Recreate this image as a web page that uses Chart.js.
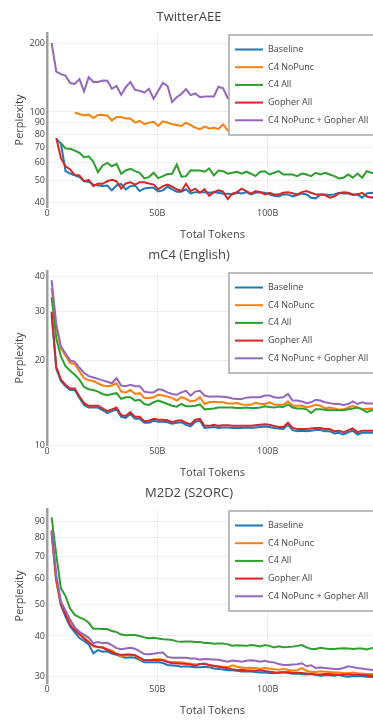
<!DOCTYPE html>
<html>
<head>
<meta charset="utf-8">
<title>Perplexity vs Total Tokens</title>
<script src="https://cdn.jsdelivr.net/npm/chart.js@4.4.1/dist/chart.umd.min.js"></script>
<style>
  html, body { margin: 0; padding: 0; background: #fff; }
  body { position: relative; width: 373px; height: 720px; overflow: hidden; }
  canvas { position: absolute; left: 0; }
</style>
</head>
<body>
<canvas id="chart-twitter" width="400" height="250" style="top:0px"></canvas>
<canvas id="chart-mc4" width="400" height="250" style="top:238px"></canvas>
<canvas id="chart-m2d2" width="400" height="250" style="top:476px"></canvas>
<script>
// Checkpoints (billions of tokens)
const tokens = [
  2.1, 4.2, 6.3, 8.4, 10.5, 12.6, 14.7, 16.8, 18.9, 21,
  23.1, 25.2, 27.3, 29.4, 31.5, 33.6, 35.7, 37.8, 39.9, 42,
  44.1, 46.2, 48.3, 50.4, 52.5, 54.6, 56.7, 58.8, 60.9, 63,
  65.1, 67.2, 69.3, 71.4, 73.5, 75.6, 77.7, 79.8, 81.9, 84,
  86.1, 88.2, 90.3, 92.4, 94.5, 96.6, 98.7, 100.8, 102.9, 105,
  107.1, 109.2, 111.3, 113.4, 115.5, 117.6, 119.7, 121.8, 123.9, 126,
  128.1, 130.2, 132.3, 134.4, 136.5, 138.6, 140.7, 142.8, 144.9, 147, 149.1
];
const seriesNames = ['Baseline', 'C4 NoPunc', 'C4 All', 'Gopher All', 'C4 NoPunc + Gopher All'];
const seriesColors = ['#1f77b4', '#ff7f0e', '#2ca02c', '#d62728', '#9467bd'];
const xTicks = [0, 50, 100];

// TwitterAEE
const twitterTicks = [40, 50, 60, 70, 80, 90, 100, 200];
const twitterBaseline = [
  null, 76.2, 72.7, 55, 53.7, 52.8, 51.8, 49.7, 49.4, 48,
  47.6, 47.3, 47.6, 45.3, 47.6, 48.4, 45.8, 47.3, 47.6, 45,
  46.2, 46.5, 46.5, 44.8, 45.3, 47, 45.8, 44.7, 44.7, 45.8,
  43.9, 44.5, 44.5, 44.5, 44.2, 44.5, 44.2, 43.8, 43.8, 43.5,
  44.2, 43.9, 44.5, 43.5, 44.2, 44.5, 44.2, 43.5, 42.9, 42.6,
  43.5, 43.5, 42.6, 43.2, 43.9, 43.5, 42, 41.8, 43.5, 43.5,
  43.2, 43.5, 44.2, 43.9, 43.9, 43.2, 43.5, 42.1, 43.9, 44.2, 44
];
const twitterNoPunc = [
  null, null, null, null, null, 99.3, 98, 96.5, 97.5, 94,
  97, 97, 96.5, 91.7, 95, 95, 93.5, 93.5, 89.8, 91.5,
  88.5, 89.8, 90.5, 86.8, 91, 89.8, 88.3, 87.7, 86.8, 89.8,
  87.5, 85.4, 84, 86.3, 84.6, 85.2, 84.3, 88.3, 83, 81.5,
  84, 83, 85, 84, 83, 84, 83, 82, 84, 83,
  82, 83, 82, 82, 83, 82, 81.5, 82, 83, 82,
  81.5, 82, 82, 81.5, 82, 81.5, 82, 81.5, 82, 81.5, 82
];
const twitterC4All = [
  null, null, 73.1, 69.1, 68.9, 67.7, 66.2, 63.3, 63.9, 60.4,
  54.4, 58.3, 59.8, 57.8, 59.2, 53.6, 55.4, 56.3, 55, 54.1,
  51.1, 51.8, 54.1, 51.3, 52.3, 53.4, 53.6, 58.8, 52, 52.3,
  55.5, 55.4, 55.4, 54.7, 56.5, 52.7, 55.4, 55, 53.6, 54.1,
  54.7, 53.6, 54.7, 53.6, 52.3, 54.7, 55, 53.2, 54.1, 55,
  53.2, 53.2, 53.2, 52.3, 53.7, 53.2, 52.3, 54.1, 53.2, 54.1,
  53.2, 52.3, 51.1, 51.5, 53.2, 51.5, 53.7, 51.5, 55, 54.1, 53.5
];
const twitterGopher = [
  null, 76.9, 62.9, 57.8, 56, 52.9, 52.7, 49.7, 50.4, 47.3,
  48.6, 48.4, 49.7, 50.4, 49.7, 46.1, 48.6, 49.2, 48, 49.2,
  49.2, 48.6, 48, 45.8, 47.3, 48, 47, 45.8, 45, 48.4,
  45, 46.1, 44.2, 45.8, 42.9, 44.5, 45.3, 44.7, 41.5, 43.8,
  44.5, 46.1, 45, 43.8, 45, 44.5, 43.5, 44.2, 43.5, 43.5,
  44.2, 44.5, 44, 43.5, 44.5, 45, 44.2, 43.5, 43.5, 43.2,
  42.1, 42.6, 44, 44.5, 44.2, 43.5, 43.5, 44.2, 42.6, 42.1, 43
];
const twitterMix = [
  201, 150.3, 146.5, 144.4, 134, 132.8, 139.3, 122.9, 142, 135.3,
  135.3, 137.5, 137, 126.4, 130, 119, 128.5, 135.3, 125, 123.8,
  121.5, 126.4, 114.3, 124, 134, 130, 110.5, 116, 120, 126,
  118.5, 120.5, 116, 117, 117, 117, 129, 127, 115, 113,
  116, 112, 114, 111, 113, 110, 112, 109, 111, 110,
  108, 110, 107, 109, 108, 106, 108, 107, 105, 107,
  106, 104, 106, 105, 104, 105, 103, 104, 103, 104, 102
];

// mC4 (English)
const mc4Ticks = [10, 20, 30, 40];
const mc4Baseline = [
  29.0, 18.7, 16.9, 16.2, 15.7, 15.7, 14.7, 13.9, 13.6, 13.6,
  13.6, 13.3, 13.0, 13.2, 13.4, 12.6, 12.5, 12.9, 12.4, 12.4,
  12.0, 12.0, 12.2, 12.1, 12.1, 12.05, 11.9, 12.0, 12.05, 11.8,
  11.65, 12.1, 12.2, 11.5, 11.55, 11.6, 11.5, 11.55, 11.55, 11.5,
  11.5, 11.5, 11.55, 11.5, 11.55, 11.6, 11.65, 11.6, 11.5, 11.45,
  11.4, 11.8, 11.3, 11.2, 11.25, 11.2, 11.25, 11.3, 11.3, 11.2,
  11.2, 11.0, 11.05, 10.9, 11.1, 11.25, 10.9, 11.05, 11.05, 11.05, 11.1
];
const mc4NoPunc = [
  36.2, 26.4, 22.1, 20.8, 19.6, 19.45, 18.3, 17.3, 17.0, 16.9,
  16.6, 16.3, 16.2, 16.3, 16.6, 15.5, 15.4, 15.7, 15.2, 15.3,
  14.7, 14.7, 14.8, 15.1, 15.0, 14.9, 14.7, 14.4, 14.8, 14.6,
  14.3, 14.4, 14.8, 14.0, 14.2, 14.25, 14.2, 14.2, 14.05, 14.05,
  14.1, 13.95, 13.9, 13.9, 14.15, 14.0, 14.0, 14.2, 13.95, 13.9,
  13.9, 14.3, 13.8, 13.8, 13.8, 13.6, 13.75, 13.9, 13.8, 13.5,
  13.6, 13.5, 13.35, 13.4, 13.6, 13.8, 13.6, 13.45, 13.45, 13.5, 13.5
];
const mc4C4All = [
  33.6, 24.0, 20.7, 19.1, 18.4, 17.8, 17.1, 16.1, 15.8, 15.7,
  15.5, 15.2, 15.05, 15.2, 15.3, 14.6, 14.8, 14.8, 14.4, 14.5,
  14.0, 13.9, 14.2, 14.4, 14.2, 14.0, 13.8, 13.7, 14.0, 13.75,
  13.75, 13.8, 13.95, 13.4, 13.45, 13.5, 13.6, 13.6, 13.6, 13.6,
  13.55, 13.55, 13.6, 13.55, 13.55, 13.6, 13.75, 13.65, 13.6, 13.7,
  13.65, 13.95, 13.6, 13.5, 13.5, 13.4, 13.0, 13.4, 13.4, 13.35,
  13.3, 13.3, 13.3, 13.3, 13.4, 13.5, 13.6, 13.4, 13.1, 13.3, 13.3
];
const mc4Gopher = [
  29.8, 19.0, 17.1, 16.4, 15.9, 15.9, 14.9, 14.1, 13.8, 13.8,
  13.8, 13.5, 13.2, 13.4, 13.6, 12.8, 12.7, 13.1, 12.6, 12.6,
  12.15, 12.2, 12.4, 12.3, 12.3, 12.25, 12.05, 12.2, 12.25, 12.0,
  11.85, 12.3, 12.4, 11.7, 11.7, 11.8, 11.7, 11.75, 11.75, 11.7,
  11.7, 11.7, 11.7, 11.7, 11.75, 11.8, 11.85, 11.8, 11.7, 11.6,
  11.6, 12.0, 11.5, 11.4, 11.4, 11.4, 11.45, 11.5, 11.5, 11.4,
  11.4, 11.2, 11.25, 11.1, 11.3, 11.45, 11.1, 11.25, 11.25, 11.25, 11.3
];
const mc4Mix = [
  38.7, 26.9, 22.5, 21.2, 20.0, 19.8, 18.85, 18.1, 17.6, 17.4,
  17.2, 17.0, 16.8, 16.6, 17.3, 16.3, 16.2, 16.4, 16.2, 16.2,
  15.5, 15.4, 15.4, 15.8, 15.7, 15.4, 15.2, 15.1, 15.4, 15.6,
  15.0, 15.5, 15.6, 15.0, 14.85, 14.9, 14.9, 14.85, 14.8, 14.65,
  14.6, 14.6, 14.75, 14.8, 14.8, 14.8, 15.0, 15.0, 14.8, 14.75,
  14.8, 15.2, 14.4, 14.4, 14.3, 14.1, 14.2, 14.5, 14.4, 14.2,
  14.1, 14.0, 14.0, 13.9, 14.0, 14.3, 14.0, 14.2, 14.05, 14.05, 14.1
];

// M2D2 (S2ORC)
const m2d2Ticks = [30, 40, 50, 60, 70, 80, 90];
const m2d2Baseline = [
  82.6, 59.0, 49.7, 45.8, 42.8, 41.0, 39.4, 38.6, 37.7, 35.4,
  36.2, 35.8, 35.9, 35.3, 35.0, 34.6, 34.3, 34.4, 34.3, 33.8,
  33.2, 33.2, 33.2, 33.2, 33.05, 32.6, 32.5, 32.4, 32.2, 32.3,
  32.2, 32.1, 32.1, 32.2, 32.1, 31.8, 31.7, 31.55, 31.4, 31.4,
  31.3, 31.15, 31.15, 31.1, 31.0, 30.9, 30.9, 30.8, 30.75, 30.85,
  31.0, 30.8, 30.65, 30.7, 30.55, 30.5, 30.6, 30.4, 30.2, 30.3,
  30.3, 30.2, 30.4, 30.1, 30.0, 30.1, 30.1, 30.1, 30.0, 29.95, 29.9
];
const m2d2NoPunc = [
  82.6, 58.7, 50.3, 47.4, 44.4, 42.3, 40.9, 39.6, 38.4, 37.1,
  37.0, 37.0, 36.4, 36.1, 35.3, 34.7, 34.9, 35.0, 34.9, 34.0,
  33.7, 33.6, 33.8, 34.0, 33.8, 33.4, 33.3, 33.2, 33.2, 33.0,
  32.9, 32.7, 32.8, 32.9, 32.6, 32.3, 32.3, 32.2, 32.1, 32.5,
  32.2, 32.0, 31.9, 31.95, 31.9, 31.7, 31.9, 31.75, 31.6, 31.5,
  31.7, 31.5, 31.35, 31.4, 31.9, 31.3, 31.0, 31.0, 31.2, 31.1,
  31.0, 30.9, 30.9, 30.8, 30.75, 30.9, 30.75, 30.7, 30.6, 30.6, 30.6
];
const m2d2C4All = [
  92.3, 71.0, 56.0, 53.0, 48.5, 46.4, 45.6, 45.0, 43.9, 42.1,
  42.1, 42.0, 42.0, 41.4, 41.1, 40.4, 40.2, 40.3, 40.3, 40.0,
  39.6, 39.35, 39.5, 39.3, 39.1, 39.0, 38.9, 38.5, 38.4, 38.5,
  38.45, 38.35, 38.3, 38.05, 38.05, 37.85, 37.9, 37.9, 37.7, 37.35,
  37.45, 37.4, 37.3, 37.5, 37.4, 37.15, 37.5, 37.3, 36.9, 37.2,
  36.95, 37.0, 37.1, 37.3, 37.5, 36.9, 36.5, 36.5, 36.8, 36.6,
  36.5, 36.5, 36.6, 36.7, 36.6, 36.5, 36.6, 36.6, 36.35, 36.7, 36.8
];
const m2d2Gopher = [
  83.6, 60.0, 50.2, 46.5, 43.2, 41.7, 40.5, 39.3, 38.2, 37.4,
  37.0, 36.8, 36.3, 35.7, 35.2, 34.95, 35.1, 35.1, 34.9, 34.3,
  33.75, 33.7, 33.8, 33.7, 33.7, 33.3, 33.0, 33.0, 32.9, 32.85,
  32.7, 32.4, 32.8, 32.85, 32.6, 32.4, 32.2, 32.0, 31.85, 31.6,
  31.45, 31.5, 31.4, 31.35, 31.3, 31.4, 31.25, 31.1, 30.95, 30.9,
  30.9, 31.0, 30.85, 30.85, 30.8, 30.7, 30.6, 30.45, 30.5, 30.6,
  30.6, 30.5, 30.4, 30.5, 30.45, 30.4, 30.4, 30.35, 30.3, 30.2, 30.1
];
const m2d2Mix = [
  84.6, 61.5, 51.0, 47.9, 44.9, 42.5, 41.2, 40.4, 39.5, 38.0,
  38.3, 38.0, 38.1, 37.5, 36.7, 36.4, 36.6, 36.8, 36.55, 35.9,
  35.2, 35.15, 35.3, 35.5, 35.6, 34.5, 34.3, 34.3, 34.3, 34.3,
  34.1, 34.1, 33.85, 34.0, 33.95, 33.9, 33.8, 33.6, 33.35, 33.65,
  33.5, 33.35, 33.6, 33.7, 33.6, 33.35, 33.6, 33.3, 33.2, 32.8,
  32.6, 32.6, 32.7, 32.75, 33.0, 32.3, 32.5, 31.9, 32.0, 31.9,
  31.8, 31.7, 31.7, 31.9, 32.3, 32.1, 31.9, 31.8, 31.6, 31.5, 31.4
];

const textColor = '#444';
Chart.defaults.font.family = '"Open Sans", sans-serif';
Chart.defaults.color = textColor;

// Legend box drawn inside the plot, top right, like the original figure
const boxedLegend = {
  id: 'boxedLegend',
  afterDatasetsDraw(chart) {
    const ctx = chart.ctx;
    const left = 229, top = 35, width = 152, height = 100;
    ctx.save();
    ctx.fillStyle = '#fff';
    ctx.fillRect(left, top, width, height);
    ctx.strokeStyle = '#a6a6a6';
    ctx.lineWidth = 1.5;
    ctx.strokeRect(left, top, width, height);
    ctx.font = '9px "Open Sans"';
    ctx.textBaseline = 'middle';
    chart.data.datasets.forEach((ds, i) => {
      const y = top + 14.5 + i * 17.7;
      ctx.strokeStyle = ds.borderColor;
      ctx.lineWidth = 2;
      ctx.beginPath();
      ctx.moveTo(235, y);
      ctx.lineTo(263, y);
      ctx.stroke();
      ctx.fillStyle = textColor;
      ctx.fillText(ds.label, 268, y);
    });
    ctx.restore();
  }
};

const makeChart = (canvasId, title, yMin, yMax, yTicks, series) => {
  const datasets = series.map((values, i) => ({
    label: seriesNames[i],
    data: values,
    borderColor: seriesColors[i],
    backgroundColor: seriesColors[i],
    borderWidth: 2,
    pointRadius: 0,
    tension: 0,
    fill: false,
    order: series.length - i   // later traces on top
  }));

  return new Chart(document.getElementById(canvasId), {
    type: 'line',
    data: { labels: tokens, datasets: datasets },
    options: {
      responsive: false,
      animation: false,
      devicePixelRatio: 1,
      layout: { padding: { left: 0, right: 22, top: 0, bottom: 0 } },
      plugins: {
        legend: { display: false },
        tooltip: { enabled: false },
        title: {
          display: true,
          text: title,
          color: textColor,
          font: { size: 13, weight: 'normal' },
          padding: { top: 9, bottom: 8.4 }
        }
      },
      scales: {
        x: {
          type: 'linear',
          min: 0,
          max: 150,
          afterBuildTicks: s => { s.ticks = xTicks.map(v => ({ value: v })); },
          afterFit: s => { s.height = 43; },
          grid: { color: '#eee', drawTicks: false },
          border: { display: false },
          ticks: {
            padding: 1,
            maxRotation: 0,
            autoSkip: false,
            color: textColor,
            font: { size: 9 },
            callback: v => (v === 0 ? '0' : v + 'B')
          },
          title: {
            display: true,
            text: 'Total Tokens',
            color: textColor,
            font: { size: 11 },
            padding: { top: 0, bottom: 8.4 }
          }
        },
        y: {
          type: 'logarithmic',
          min: yMin,
          max: yMax,
          afterBuildTicks: s => { s.ticks = yTicks.map(v => ({ value: v })); },
          afterFit: s => { s.width = 47; },
          grid: { color: '#eee', drawTicks: false },
          border: { display: true, color: '#a0a0a0', width: 2.5 },
          ticks: {
            padding: 2,
            autoSkip: false,
            color: textColor,
            font: { size: 9 },
            callback: v => String(v)
          },
          title: {
            display: true,
            text: 'Perplexity',
            color: textColor,
            font: { size: 11 },
            padding: { top: 13.4, bottom: 0 }
          }
        }
      }
    },
    plugins: [boxedLegend]
  });
};

makeChart('chart-twitter', 'TwitterAEE', 38.3, 222, twitterTicks,
  [twitterBaseline, twitterNoPunc, twitterC4All, twitterGopher, twitterMix]);
makeChart('chart-mc4', 'mC4 (English)', 10, 41.7, mc4Ticks,
  [mc4Baseline, mc4NoPunc, mc4C4All, mc4Gopher, mc4Mix]);
makeChart('chart-m2d2', 'M2D2 (S2ORC)', 28.7, 98, m2d2Ticks,
  [m2d2Baseline, m2d2NoPunc, m2d2C4All, m2d2Gopher, m2d2Mix]);
</script>
</body>
</html>
